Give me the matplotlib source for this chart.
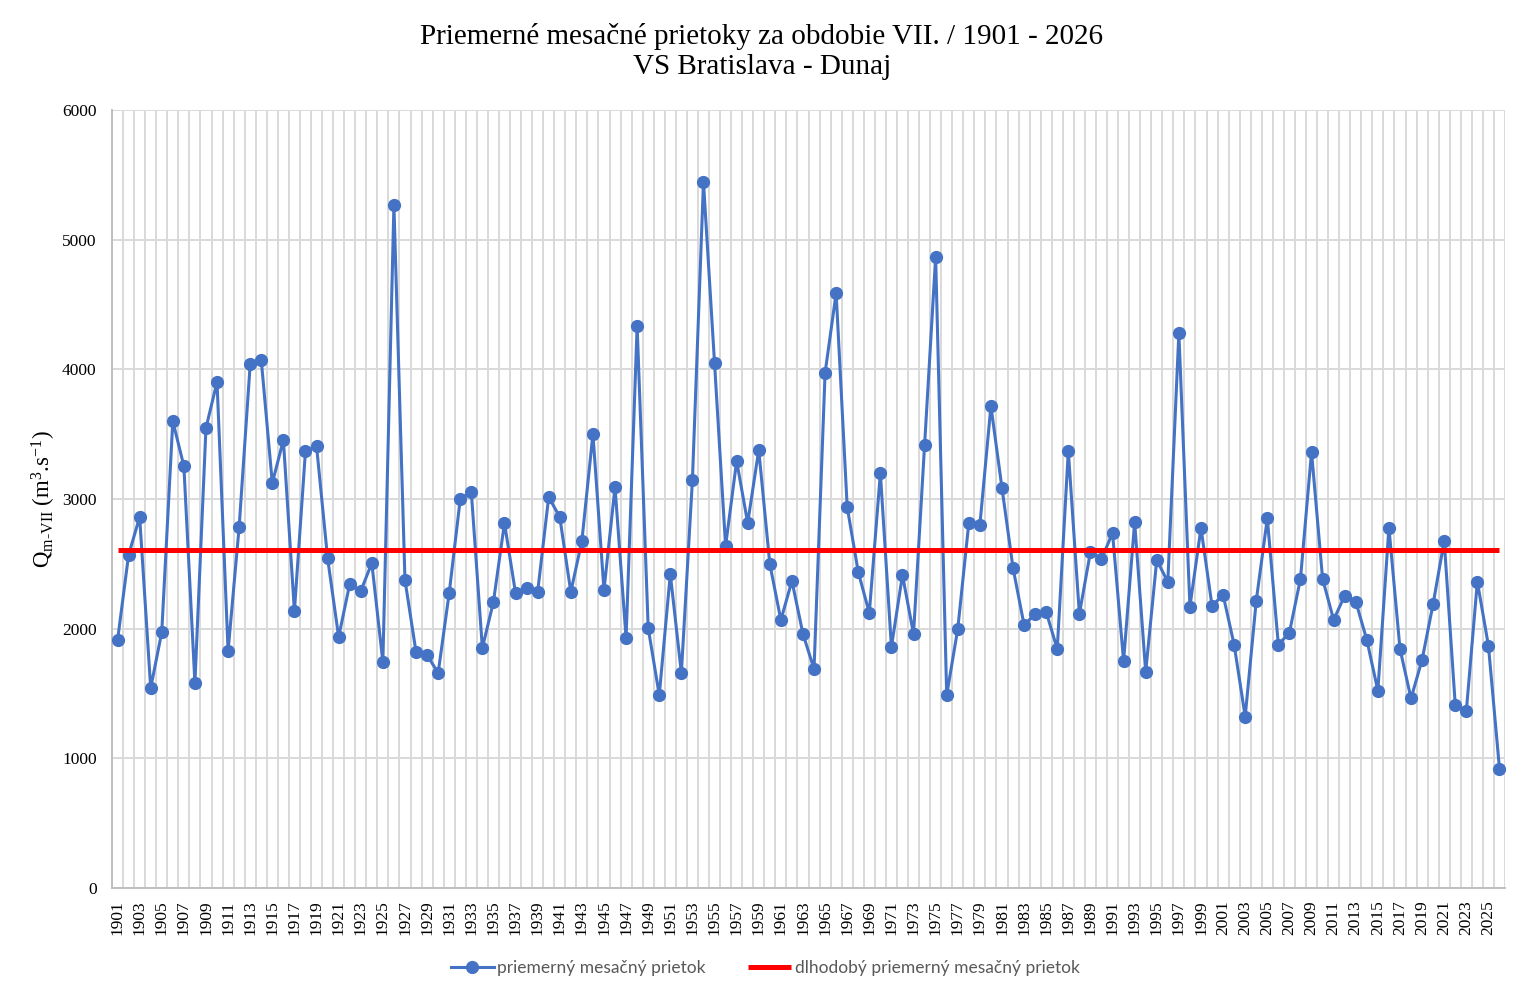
import matplotlib
matplotlib.use("Agg")
import matplotlib.pyplot as plt
from matplotlib.ticker import FixedLocator

years = list(range(1901, 2027))
flow = [1910, 2568, 2861, 1542, 1974, 3601, 3254, 1581, 3548, 3902,
        1828, 2784, 4041, 4072, 3123, 3455, 2136, 3370, 3409, 2545,
        1936, 2344, 2290, 2506, 1743, 5267, 2375, 1820, 1797, 1658,
        2275, 3000, 3054, 1851, 2206, 2815, 2275, 2314, 2283, 3015,
        2861, 2283, 2676, 3501, 2298, 3092, 1928, 4334, 2005, 1488,
        2421, 1658, 3146, 5445, 4049, 2637, 3293, 2815, 3378, 2499,
        2067, 2368, 1959, 1689, 3972, 4589, 2938, 2437, 2121, 3200,
        1859, 2414, 1959, 3416, 4866, 1488, 1997, 2815, 2799, 3717,
        3085, 2468, 2028, 2113, 2128, 1843, 3370, 2113, 2591, 2537,
        2738, 1751, 2823, 1666, 2530, 2360, 4280, 2170, 2776, 2176,
        2261, 1876, 1322, 2216, 2850, 1876, 1970, 2385, 3362, 2385,
        2068, 2255, 2209, 1914, 1522, 2779, 1845, 1462, 1760, 2192,
        2678, 1413, 1364, 2362, 1869, 921]
longterm_mean = 2608
mean_series = [longterm_mean] * len(years)

title = "Priemerné mesačné prietoky za obdobie VII. / 1901 - 2026\nVS Bratislava - Dunaj"
label_series = "priemerný mesačný prietok"
label_mean = "dlhodobý priemerný mesačný prietok"
y_ticks = [0, 1000, 2000, 3000, 4000, 5000, 6000]

plt.rcParams['font.family'] = ['Liberation Serif', 'DejaVu Serif']
plt.rcParams['mathtext.fontset'] = 'custom'
plt.rcParams['mathtext.rm'] = 'Liberation Serif'
plt.rcParams['mathtext.it'] = 'Liberation Serif:italic'
plt.rcParams['xtick.labelsize'] = 12.5
plt.rcParams['ytick.labelsize'] = 12.5

fig = plt.figure(figsize=(15.24, 9.99), dpi=100)
ax = fig.add_axes([112/1524, 1-888/999, (1505-112)/1524, (888-110)/999])

x = list(range(len(years)))
ax.plot(x, flow, color='#4472C4', lw=2.2, marker='o', markersize=8.5,
        label=label_series, zorder=3)
ax.plot(x, mean_series, color='#FF0000', lw=3.6, label=label_mean,
        zorder=4, solid_capstyle='butt')

ax.set_xlim(-0.5, len(years) - 0.5)
ax.set_ylim(0, 6000)
ax.yaxis.set_major_locator(FixedLocator(y_ticks))
ax.set_xticks(x[::2])
ax.set_xticklabels([str(y) for y in years[::2]], rotation=90)
ax.xaxis.set_minor_locator(FixedLocator([i - 0.5 for i in range(len(years) + 1)]))
ax.tick_params(axis='both', which='both', length=0)
ax.tick_params(axis='y', pad=11)
ax.tick_params(axis='x', pad=9)

ax.grid(True, axis='y', which='major', color='#D9D9D9', lw=1.4)
ax.grid(True, axis='x', which='minor', color='#D9D9D9', lw=1.4)
ax.grid(False, axis='x', which='major')
ax.set_axisbelow(True)
for s in ['top', 'right']:
    ax.spines[s].set_visible(False)
for s in ['left', 'bottom']:
    ax.spines[s].set_color('#BFBFBF')
    ax.spines[s].set_linewidth(1.4)

ax.set_ylabel(r'Q$_{\mathrm{m\text{-}VII}}$ (m$^{3}$.s$^{-1}$)',
              fontsize=16.5, labelpad=3)

fig.text(762/1524, 1-51/999, title, ha='center', va='center',
         fontsize=21, linespacing=1.2)

leg = fig.legend(loc='center', bbox_to_anchor=(765/1524, 1-968/999), ncol=2,
                 frameon=False, prop={'family': 'Lato', 'size': 12.5},
                 handlelength=2.5, handletextpad=0.2, columnspacing=2.4)
for t in leg.get_texts():
    t.set_color('#595959')

fig.savefig('out.png', dpi=100)
